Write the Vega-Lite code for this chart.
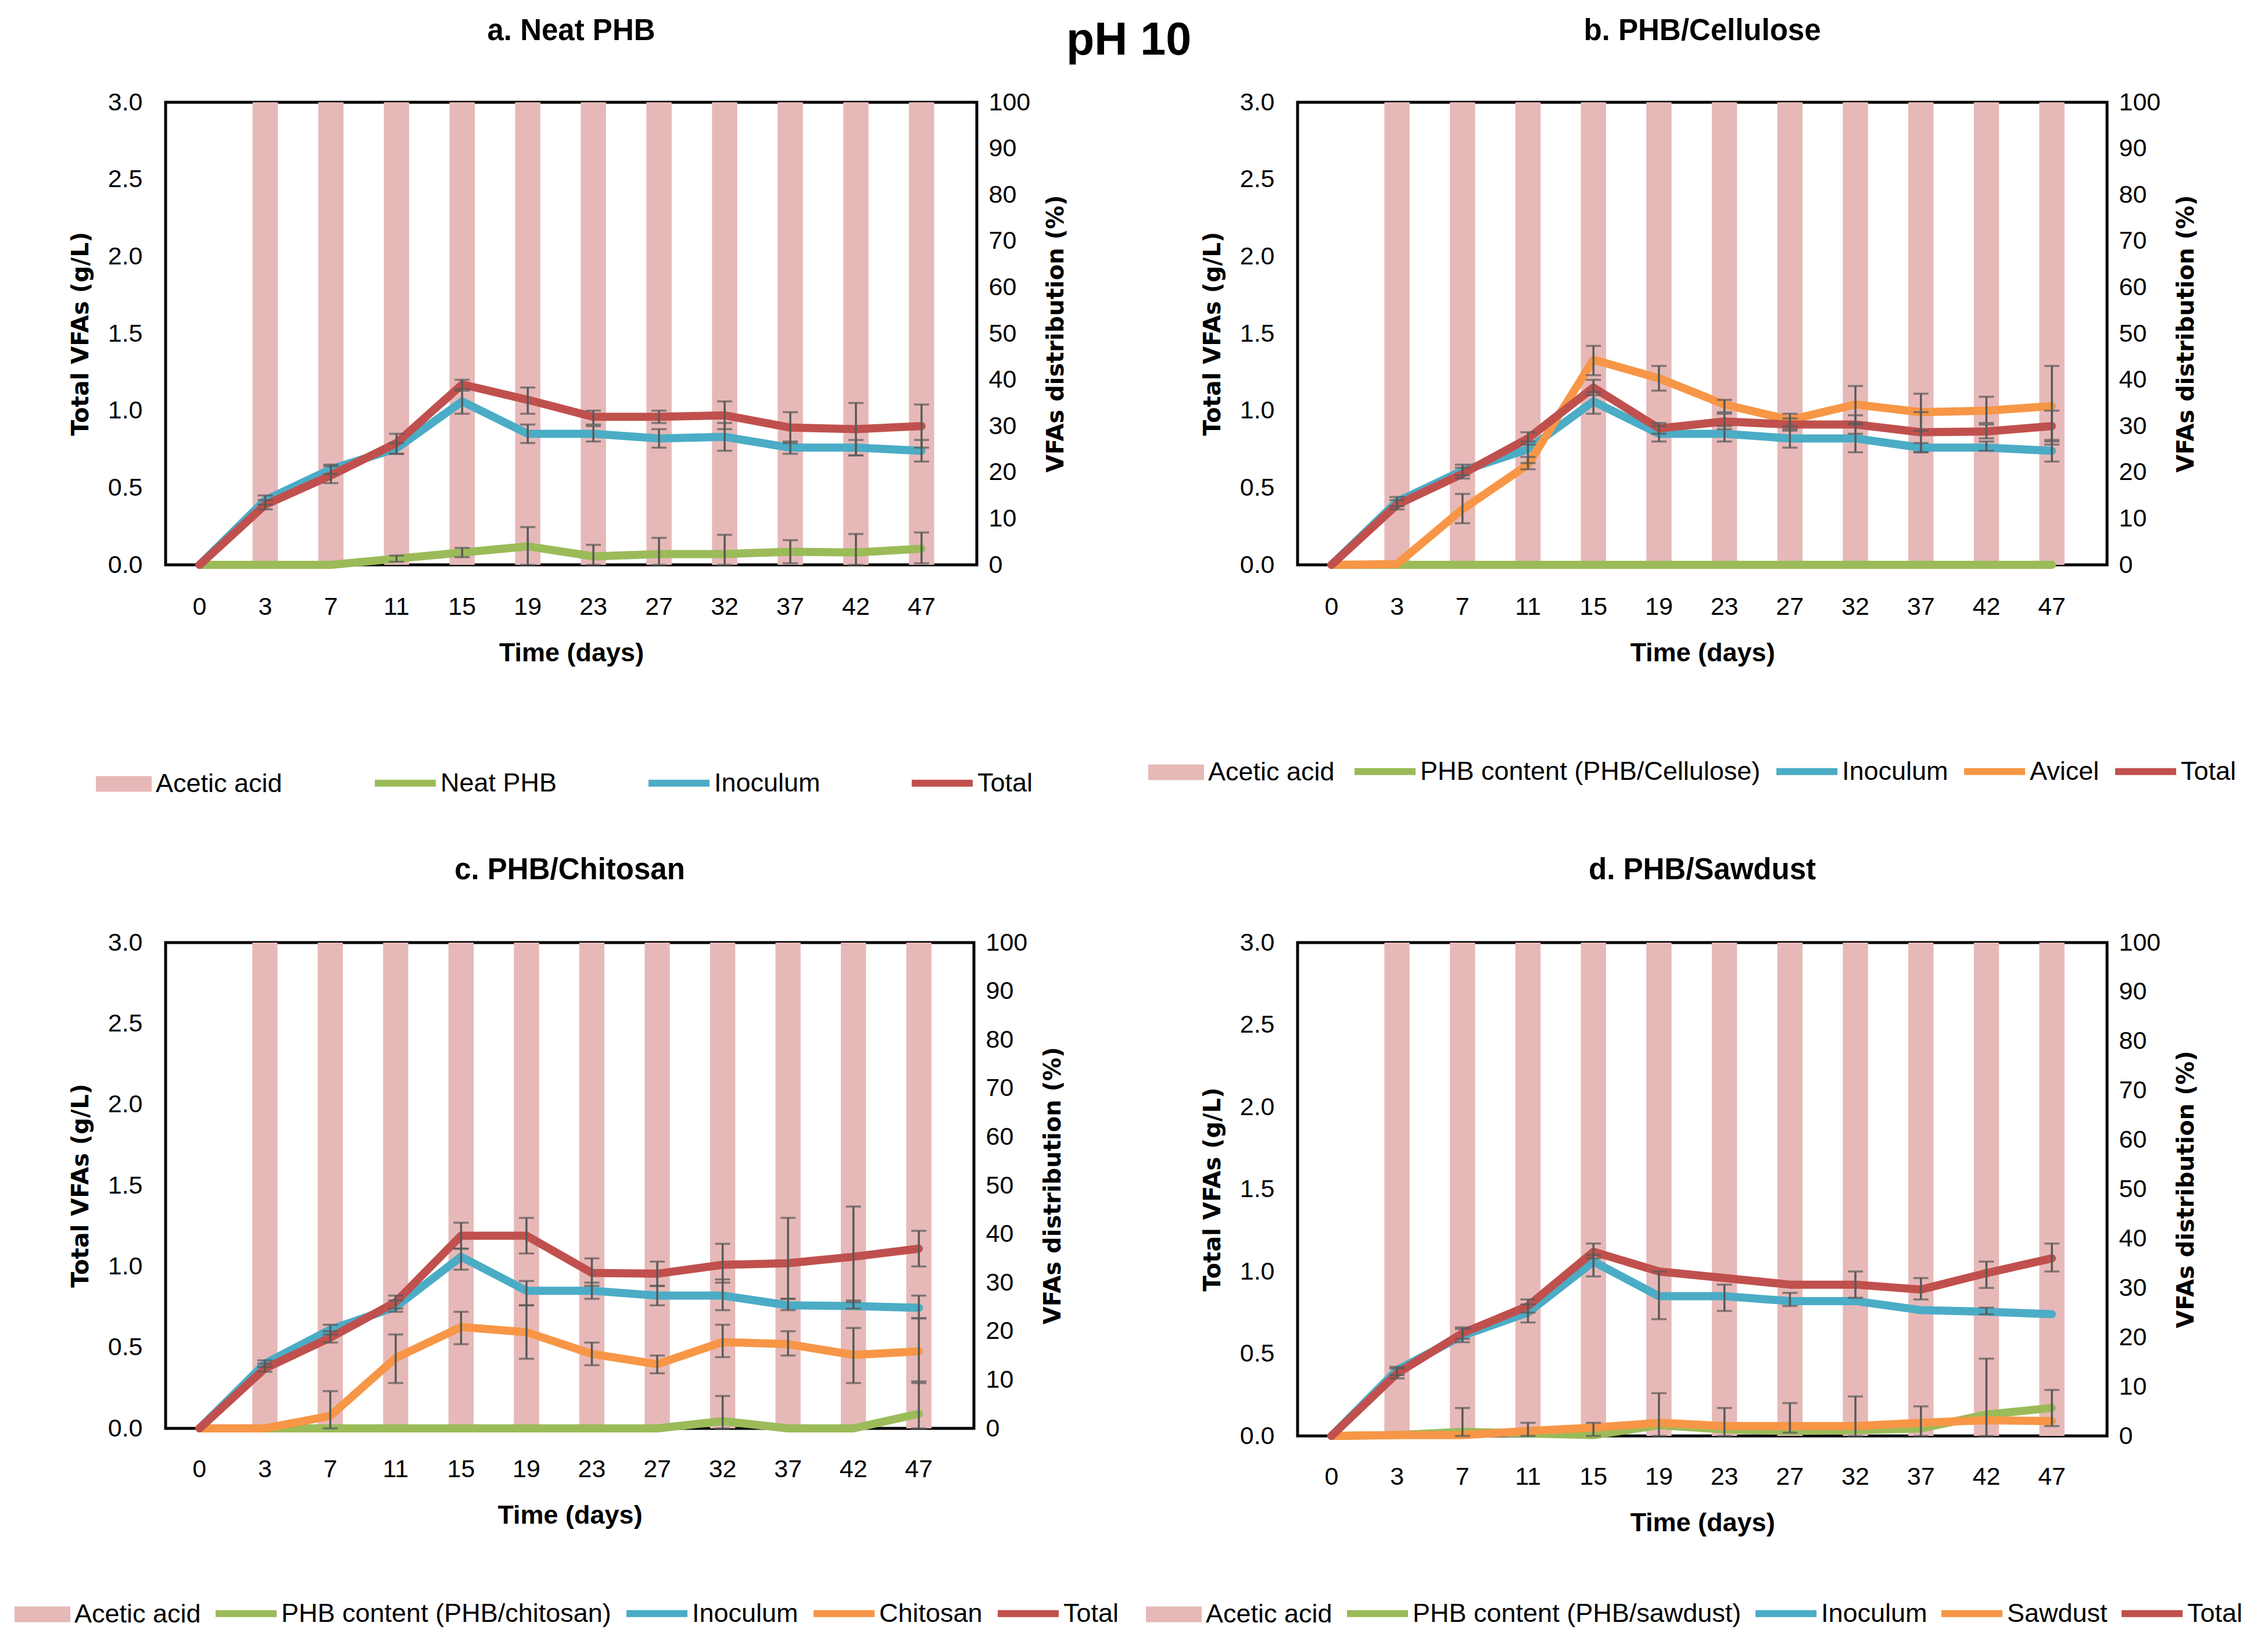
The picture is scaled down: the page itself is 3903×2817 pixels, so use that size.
{
"$schema": "https://vega.github.io/schema/vega-lite/v6.json",
"background": "white",
"padding": {"left": 22, "top": 25, "right": 5, "bottom": 5},
"title": {"text": "pH 10", "fontSize": 79, "offset": -85, "anchor": "middle"},
"config": {
  "view": {"stroke": "black", "strokeWidth": 5},
  "title": {"font": "Liberation Sans", "fontWeight": "bold", "color": "black", "fontSize": 51, "anchor": "middle", "offset": 75},
  "axis": {"grid": false, "domain": false, "ticks": false, "labelFont": "Liberation Sans", "labelFontSize": 43, "labelColor": "black", "titleColor": "black"},
  "legend": {"labelFont": "Liberation Sans", "labelFontSize": 45, "labelColor": "black", "labelLimit": 1200, "padding": 0, "title": null}
},
"datasets": {
"a": [
{"s":"Acetic acid","d":3,"v":100},{"s":"Acetic acid","d":7,"v":100},{"s":"Acetic acid","d":11,"v":100},{"s":"Acetic acid","d":15,"v":100},{"s":"Acetic acid","d":19,"v":100},{"s":"Acetic acid","d":23,"v":100},{"s":"Acetic acid","d":27,"v":100},{"s":"Acetic acid","d":32,"v":100},{"s":"Acetic acid","d":37,"v":100},{"s":"Acetic acid","d":42,"v":100},{"s":"Acetic acid","d":47,"v":100},
{"s":"Neat PHB","d":0,"v":0},{"s":"Neat PHB","d":3,"v":0},{"s":"Neat PHB","d":7,"v":0},
{"s":"Neat PHB","d":11,"v":0.04,"lo":0.02,"hi":0.06},{"s":"Neat PHB","d":15,"v":0.08,"lo":0.05,"hi":0.11},
{"s":"Neat PHB","d":19,"v":0.12,"lo":0,"hi":0.245},{"s":"Neat PHB","d":23,"v":0.055,"lo":0,"hi":0.13},
{"s":"Neat PHB","d":27,"v":0.07,"lo":0,"hi":0.175},{"s":"Neat PHB","d":32,"v":0.07,"lo":0,"hi":0.195},
{"s":"Neat PHB","d":37,"v":0.085,"lo":0.01,"hi":0.16},{"s":"Neat PHB","d":42,"v":0.08,"lo":0,"hi":0.2},
{"s":"Neat PHB","d":47,"v":0.105,"lo":0.01,"hi":0.21},
{"s":"Inoculum","d":0,"v":0},{"s":"Inoculum","d":3,"v":0.42,"lo":0.39,"hi":0.45},{"s":"Inoculum","d":7,"v":0.62,"lo":0.59,"hi":0.65},
{"s":"Inoculum","d":11,"v":0.755,"lo":0.72,"hi":0.79},{"s":"Inoculum","d":15,"v":1.06,"lo":0.98,"hi":1.13},
{"s":"Inoculum","d":19,"v":0.85,"lo":0.79,"hi":0.91},{"s":"Inoculum","d":23,"v":0.85,"lo":0.8,"hi":0.9},
{"s":"Inoculum","d":27,"v":0.82,"lo":0.76,"hi":0.88},{"s":"Inoculum","d":32,"v":0.83,"lo":0.74,"hi":0.92},
{"s":"Inoculum","d":37,"v":0.76,"lo":0.72,"hi":0.8},{"s":"Inoculum","d":42,"v":0.76,"lo":0.71,"hi":0.81},
{"s":"Inoculum","d":47,"v":0.74,"lo":0.67,"hi":0.81},
{"s":"Total","d":0,"v":0},{"s":"Total","d":3,"v":0.39,"lo":0.36,"hi":0.42},{"s":"Total","d":7,"v":0.58,"lo":0.53,"hi":0.64},
{"s":"Total","d":11,"v":0.79,"lo":0.72,"hi":0.85},{"s":"Total","d":15,"v":1.17,"lo":1.14,"hi":1.2},
{"s":"Total","d":19,"v":1.07,"lo":0.98,"hi":1.15},{"s":"Total","d":23,"v":0.96,"lo":0.91,"hi":1.0},
{"s":"Total","d":27,"v":0.96,"lo":0.92,"hi":1.0},{"s":"Total","d":32,"v":0.97,"lo":0.88,"hi":1.06},
{"s":"Total","d":37,"v":0.89,"lo":0.79,"hi":0.99},{"s":"Total","d":42,"v":0.88,"lo":0.71,"hi":1.05},
{"s":"Total","d":47,"v":0.9,"lo":0.76,"hi":1.04}
],
"b": [
{"s":"Acetic acid","d":3,"v":100},{"s":"Acetic acid","d":7,"v":100},{"s":"Acetic acid","d":11,"v":100},{"s":"Acetic acid","d":15,"v":100},{"s":"Acetic acid","d":19,"v":100},{"s":"Acetic acid","d":23,"v":100},{"s":"Acetic acid","d":27,"v":100},{"s":"Acetic acid","d":32,"v":100},{"s":"Acetic acid","d":37,"v":100},{"s":"Acetic acid","d":42,"v":100},{"s":"Acetic acid","d":47,"v":100},
{"s":"PHB content (PHB/Cellulose)","d":0,"v":0},{"s":"PHB content (PHB/Cellulose)","d":3,"v":0},{"s":"PHB content (PHB/Cellulose)","d":7,"v":0},{"s":"PHB content (PHB/Cellulose)","d":11,"v":0},{"s":"PHB content (PHB/Cellulose)","d":15,"v":0},{"s":"PHB content (PHB/Cellulose)","d":19,"v":0},{"s":"PHB content (PHB/Cellulose)","d":23,"v":0},{"s":"PHB content (PHB/Cellulose)","d":27,"v":0},{"s":"PHB content (PHB/Cellulose)","d":32,"v":0},{"s":"PHB content (PHB/Cellulose)","d":37,"v":0},{"s":"PHB content (PHB/Cellulose)","d":42,"v":0},{"s":"PHB content (PHB/Cellulose)","d":47,"v":0},
{"s":"Inoculum","d":0,"v":0},{"s":"Inoculum","d":3,"v":0.41,"lo":0.38,"hi":0.44},{"s":"Inoculum","d":7,"v":0.61,"lo":0.58,"hi":0.65},
{"s":"Inoculum","d":11,"v":0.75,"lo":0.66,"hi":0.8},{"s":"Inoculum","d":15,"v":1.06,"lo":0.98,"hi":1.12},
{"s":"Inoculum","d":19,"v":0.85,"lo":0.8,"hi":0.9},{"s":"Inoculum","d":23,"v":0.85,"lo":0.8,"hi":0.9},
{"s":"Inoculum","d":27,"v":0.82,"lo":0.76,"hi":0.88},{"s":"Inoculum","d":32,"v":0.82,"lo":0.73,"hi":0.91},
{"s":"Inoculum","d":37,"v":0.76,"lo":0.73,"hi":0.79},{"s":"Inoculum","d":42,"v":0.76,"lo":0.74,"hi":0.8},
{"s":"Inoculum","d":47,"v":0.74,"lo":0.67,"hi":0.81},
{"s":"Avicel","d":0,"v":0},{"s":"Avicel","d":3,"v":0.005},{"s":"Avicel","d":7,"v":0.36,"lo":0.27,"hi":0.46},
{"s":"Avicel","d":11,"v":0.65,"lo":0.62,"hi":0.7},{"s":"Avicel","d":15,"v":1.33,"lo":1.23,"hi":1.42},
{"s":"Avicel","d":19,"v":1.21,"lo":1.13,"hi":1.29},{"s":"Avicel","d":23,"v":1.04,"lo":0.99,"hi":1.07},
{"s":"Avicel","d":27,"v":0.94,"lo":0.9,"hi":0.98},{"s":"Avicel","d":32,"v":1.04,"lo":0.92,"hi":1.16},
{"s":"Avicel","d":37,"v":0.99,"lo":0.87,"hi":1.11},{"s":"Avicel","d":42,"v":1.0,"lo":0.92,"hi":1.09},
{"s":"Avicel","d":47,"v":1.03,"lo":0.78,"hi":1.29},
{"s":"Total","d":0,"v":0},{"s":"Total","d":3,"v":0.39,"lo":0.36,"hi":0.42},{"s":"Total","d":7,"v":0.59,"lo":0.56,"hi":0.63},
{"s":"Total","d":11,"v":0.82,"lo":0.78,"hi":0.86},{"s":"Total","d":15,"v":1.15,"lo":1.1,"hi":1.2},
{"s":"Total","d":19,"v":0.885,"lo":0.85,"hi":0.92},{"s":"Total","d":23,"v":0.93,"lo":0.88,"hi":0.98},
{"s":"Total","d":27,"v":0.91,"lo":0.87,"hi":0.95},{"s":"Total","d":32,"v":0.91,"lo":0.85,"hi":0.97},
{"s":"Total","d":37,"v":0.86,"lo":0.73,"hi":0.99},{"s":"Total","d":42,"v":0.865,"lo":0.82,"hi":0.91},
{"s":"Total","d":47,"v":0.9,"lo":0.8,"hi":1.0}
],
"c": [
{"s":"Acetic acid","d":3,"v":100},{"s":"Acetic acid","d":7,"v":100},{"s":"Acetic acid","d":11,"v":100},{"s":"Acetic acid","d":15,"v":100},{"s":"Acetic acid","d":19,"v":100},{"s":"Acetic acid","d":23,"v":100},{"s":"Acetic acid","d":27,"v":100},{"s":"Acetic acid","d":32,"v":100},{"s":"Acetic acid","d":37,"v":100},{"s":"Acetic acid","d":42,"v":100},{"s":"Acetic acid","d":47,"v":100},
{"s":"PHB content (PHB/chitosan)","d":0,"v":0},{"s":"PHB content (PHB/chitosan)","d":3,"v":0},{"s":"PHB content (PHB/chitosan)","d":7,"v":0},{"s":"PHB content (PHB/chitosan)","d":11,"v":0},{"s":"PHB content (PHB/chitosan)","d":15,"v":0},{"s":"PHB content (PHB/chitosan)","d":19,"v":0},{"s":"PHB content (PHB/chitosan)","d":23,"v":0},{"s":"PHB content (PHB/chitosan)","d":27,"v":0},
{"s":"PHB content (PHB/chitosan)","d":32,"v":0.045,"lo":0,"hi":0.2},{"s":"PHB content (PHB/chitosan)","d":37,"v":0},{"s":"PHB content (PHB/chitosan)","d":42,"v":0},{"s":"PHB content (PHB/chitosan)","d":47,"v":0.09,"lo":0,"hi":0.29},
{"s":"Inoculum","d":0,"v":0},{"s":"Inoculum","d":3,"v":0.4,"lo":0.38,"hi":0.42},{"s":"Inoculum","d":7,"v":0.61,"lo":0.58,"hi":0.64},
{"s":"Inoculum","d":11,"v":0.75,"lo":0.72,"hi":0.79},{"s":"Inoculum","d":15,"v":1.06,"lo":0.98,"hi":1.11},
{"s":"Inoculum","d":19,"v":0.85,"lo":0.76,"hi":0.91},{"s":"Inoculum","d":23,"v":0.85,"lo":0.8,"hi":0.9},
{"s":"Inoculum","d":27,"v":0.82,"lo":0.76,"hi":0.88},{"s":"Inoculum","d":32,"v":0.82,"lo":0.73,"hi":0.92},
{"s":"Inoculum","d":37,"v":0.76,"lo":0.73,"hi":0.8},{"s":"Inoculum","d":42,"v":0.755,"lo":0.74,"hi":0.79},
{"s":"Inoculum","d":47,"v":0.745,"lo":0.68,"hi":0.82},
{"s":"Chitosan","d":0,"v":0},{"s":"Chitosan","d":3,"v":0},{"s":"Chitosan","d":7,"v":0.077,"lo":0,"hi":0.23},
{"s":"Chitosan","d":11,"v":0.435,"lo":0.28,"hi":0.58},{"s":"Chitosan","d":15,"v":0.626,"lo":0.52,"hi":0.72},
{"s":"Chitosan","d":19,"v":0.594,"lo":0.43,"hi":0.76},{"s":"Chitosan","d":23,"v":0.46,"lo":0.39,"hi":0.53},
{"s":"Chitosan","d":27,"v":0.396,"lo":0.34,"hi":0.45},{"s":"Chitosan","d":32,"v":0.533,"lo":0.44,"hi":0.64},
{"s":"Chitosan","d":37,"v":0.52,"lo":0.45,"hi":0.6},{"s":"Chitosan","d":42,"v":0.454,"lo":0.28,"hi":0.62},
{"s":"Chitosan","d":47,"v":0.475,"lo":0.28,"hi":0.68},
{"s":"Total","d":0,"v":0},{"s":"Total","d":3,"v":0.37,"lo":0.35,"hi":0.4},{"s":"Total","d":7,"v":0.56,"lo":0.53,"hi":0.6},
{"s":"Total","d":11,"v":0.78,"lo":0.74,"hi":0.82},{"s":"Total","d":15,"v":1.19,"lo":1.11,"hi":1.27},
{"s":"Total","d":19,"v":1.19,"lo":1.08,"hi":1.3},{"s":"Total","d":23,"v":0.96,"lo":0.88,"hi":1.05},
{"s":"Total","d":27,"v":0.955,"lo":0.88,"hi":1.03},{"s":"Total","d":32,"v":1.01,"lo":0.9,"hi":1.14},
{"s":"Total","d":37,"v":1.02,"lo":0.8,"hi":1.3},{"s":"Total","d":42,"v":1.06,"lo":0.78,"hi":1.37},
{"s":"Total","d":47,"v":1.11,"lo":1.0,"hi":1.22}
],
"d": [
{"s":"Acetic acid","d":3,"v":100},{"s":"Acetic acid","d":7,"v":100},{"s":"Acetic acid","d":11,"v":100},{"s":"Acetic acid","d":15,"v":100},{"s":"Acetic acid","d":19,"v":100},{"s":"Acetic acid","d":23,"v":100},{"s":"Acetic acid","d":27,"v":100},{"s":"Acetic acid","d":32,"v":100},{"s":"Acetic acid","d":37,"v":100},{"s":"Acetic acid","d":42,"v":100},{"s":"Acetic acid","d":47,"v":100},
{"s":"PHB content (PHB/sawdust)","d":0,"v":0},{"s":"PHB content (PHB/sawdust)","d":3,"v":0.005},{"s":"PHB content (PHB/sawdust)","d":7,"v":0.025,"lo":0,"hi":0.17},
{"s":"PHB content (PHB/sawdust)","d":11,"v":0.015,"lo":0,"hi":0.08},{"s":"PHB content (PHB/sawdust)","d":15,"v":0.005,"lo":0,"hi":0.08},
{"s":"PHB content (PHB/sawdust)","d":19,"v":0.065,"lo":0,"hi":0.26},{"s":"PHB content (PHB/sawdust)","d":23,"v":0.04,"lo":0,"hi":0.17},
{"s":"PHB content (PHB/sawdust)","d":27,"v":0.03,"lo":0.02,"hi":0.2},{"s":"PHB content (PHB/sawdust)","d":32,"v":0.035,"lo":0,"hi":0.24},
{"s":"PHB content (PHB/sawdust)","d":37,"v":0.045,"lo":0,"hi":0.18},{"s":"PHB content (PHB/sawdust)","d":42,"v":0.13,"lo":0,"hi":0.47},
{"s":"PHB content (PHB/sawdust)","d":47,"v":0.17,"lo":0.06,"hi":0.28},
{"s":"Inoculum","d":0,"v":0},{"s":"Inoculum","d":3,"v":0.4,"lo":0.37,"hi":0.42},{"s":"Inoculum","d":7,"v":0.61,"lo":0.57,"hi":0.65},
{"s":"Inoculum","d":11,"v":0.75,"lo":0.69,"hi":0.8},{"s":"Inoculum","d":15,"v":1.06,"lo":0.97,"hi":1.1},
{"s":"Inoculum","d":19,"v":0.85,"lo":0.71,"hi":1.0},{"s":"Inoculum","d":23,"v":0.85,"lo":0.76,"hi":0.92},
{"s":"Inoculum","d":27,"v":0.82,"lo":0.79,"hi":0.87},{"s":"Inoculum","d":32,"v":0.82},
{"s":"Inoculum","d":37,"v":0.765},{"s":"Inoculum","d":42,"v":0.755,"lo":0.74,"hi":0.78},
{"s":"Inoculum","d":47,"v":0.74},
{"s":"Sawdust","d":0,"v":0},{"s":"Sawdust","d":3,"v":0.005},{"s":"Sawdust","d":7,"v":0.005},{"s":"Sawdust","d":11,"v":0.03},
{"s":"Sawdust","d":15,"v":0.05},{"s":"Sawdust","d":19,"v":0.08},{"s":"Sawdust","d":23,"v":0.06},{"s":"Sawdust","d":27,"v":0.06},
{"s":"Sawdust","d":32,"v":0.06},{"s":"Sawdust","d":37,"v":0.08},{"s":"Sawdust","d":42,"v":0.095},{"s":"Sawdust","d":47,"v":0.09},
{"s":"Total","d":0,"v":0},{"s":"Total","d":3,"v":0.38,"lo":0.35,"hi":0.41},{"s":"Total","d":7,"v":0.625,"lo":0.59,"hi":0.66},
{"s":"Total","d":11,"v":0.79,"lo":0.75,"hi":0.83},{"s":"Total","d":15,"v":1.12,"lo":1.08,"hi":1.17},
{"s":"Total","d":19,"v":1.0},{"s":"Total","d":23,"v":0.96},
{"s":"Total","d":27,"v":0.92},{"s":"Total","d":32,"v":0.92,"lo":0.84,"hi":1.0},
{"s":"Total","d":37,"v":0.89,"lo":0.83,"hi":0.96},{"s":"Total","d":42,"v":0.99,"lo":0.9,"hi":1.06},
{"s":"Total","d":47,"v":1.08,"lo":1.0,"hi":1.17}
]
},
"columns": 2,
"bounds": "flush",
"spacing": {"row": 650, "column": 552},
"align": "each",
"resolve": {"scale": {"x": "independent", "y": "independent", "fill": "independent", "stroke": "independent"}, "legend": {"fill": "independent", "stroke": "independent"}},
"concat": [
{
 "width": 1396, "height": 796,
 "title": {"text": "a. Neat PHB"},
 "data": {"name": "a"},
 "encoding": {"x": {"field": "d", "type": "ordinal", "scale": {"domain": [0,3,7,11,15,19,23,27,32,37,42,47], "paddingInner": 0, "paddingOuter": 0.18, "align": 0.05}, "axis": {"title": "Time (days)", "titleFont": "Liberation Sans", "titleFontWeight": "bold", "titleFontSize": 45, "labelAngle": 0, "labelPadding": 51, "titlePadding": 35}}},
 "layer": [
  {"transform": [{"filter": "datum.s === 'Acetic acid'"}],
   "mark": {"type": "bar", "width": {"band": 0.385}},
   "encoding": {
    "y": {"field": "v", "type": "quantitative", "scale": {"domain": [0, 100]}, "axis": {"orient": "right", "title": "VFAs distribution  (%)", "titleFont": "DejaVu Sans", "titleFontWeight": "bold", "titleFontSize": 40, "titleAngle": 270, "titleBaseline": "top", "values": [0,10,20,30,40,50,60,70,80,90,100], "labelPadding": 20, "titlePadding": 25}},
    "fill": {"field": "s", "type": "nominal", "scale": {"domain": ["Acetic acid"], "range": ["#E6B9B8"]}, "legend": {"orient": "none", "legendX": -120, "legendY": 1125, "symbolType": "M-1,-0.28H1V0.28H-1Z", "symbolSize": 9216, "symbolStrokeWidth": 0, "labelOffset": 7}}
   }},
  {"transform": [{"filter": "datum.s !== 'Acetic acid'"}],
   "layer": [
    {"mark": {"type": "line", "strokeWidth": 14, "strokeCap": "round", "strokeJoin": "round"},
     "encoding": {
      "y": {"field": "v", "type": "quantitative", "scale": {"domain": [0, 3]}, "axis": {"orient": "left", "title": "Total VFAs (g/L)", "titleFont": "DejaVu Sans", "titleFontWeight": "bold", "titleFontSize": 40, "values": [0,0.5,1,1.5,2,2.5,3], "format": ".1f", "labelPadding": 40, "titlePadding": 26}},
      "stroke": {"field": "s", "type": "nominal", "sort": null, "scale": {"domain": ["Neat PHB", "Inoculum", "Total"], "range": ["#9BBB59", "#4BACC6", "#C0504D"]}, "legend": {"orient": "none", "direction": "horizontal", "legendX": 354, "legendY": 1113, "symbolType": "stroke", "symbolSize": 11025, "symbolStrokeWidth": 12, "columnPadding": 133, "labelOffset": 2}}
     }},
    {"transform": [{"filter": "isValid(datum.lo)"}], "mark": {"type": "rule", "color": "#595959", "strokeWidth": 3.5},
     "encoding": {"y": {"field": "lo", "type": "quantitative", "scale": {"domain": [0, 3]}, "axis": {"orient": "left", "title": "Total VFAs (g/L)", "titleFont": "DejaVu Sans", "titleFontWeight": "bold", "titleFontSize": 40, "values": [0,0.5,1,1.5,2,2.5,3], "format": ".1f", "labelPadding": 40, "titlePadding": 26}}, "y2": {"field": "hi"}}},
    {"transform": [{"filter": "isValid(datum.lo)"}], "mark": {"type": "tick", "color": "#595959", "thickness": 3.5, "size": 26},
     "encoding": {"y": {"field": "lo", "type": "quantitative", "scale": {"domain": [0, 3]}, "axis": {"orient": "left", "title": "Total VFAs (g/L)", "titleFont": "DejaVu Sans", "titleFontWeight": "bold", "titleFontSize": 40, "values": [0,0.5,1,1.5,2,2.5,3], "format": ".1f", "labelPadding": 40, "titlePadding": 26}}}},
    {"transform": [{"filter": "isValid(datum.hi)"}], "mark": {"type": "tick", "color": "#595959", "thickness": 3.5, "size": 26},
     "encoding": {"y": {"field": "hi", "type": "quantitative", "scale": {"domain": [0, 3]}, "axis": {"orient": "left", "title": "Total VFAs (g/L)", "titleFont": "DejaVu Sans", "titleFontWeight": "bold", "titleFontSize": 40, "values": [0,0.5,1,1.5,2,2.5,3], "format": ".1f", "labelPadding": 40, "titlePadding": 26}}}}
   ]}
 ],
 "resolve": {"scale": {"y": "independent"}}
},
{
 "width": 1393, "height": 796,
 "title": {"text": "b. PHB/Cellulose"},
 "data": {"name": "b"},
 "encoding": {"x": {"field": "d", "type": "ordinal", "scale": {"domain": [0,3,7,11,15,19,23,27,32,37,42,47], "paddingInner": 0, "paddingOuter": 0.18, "align": 0.05}, "axis": {"title": "Time (days)", "titleFont": "Liberation Sans", "titleFontWeight": "bold", "titleFontSize": 45, "labelAngle": 0, "labelPadding": 51, "titlePadding": 35}}},
 "layer": [
  {"transform": [{"filter": "datum.s === 'Acetic acid'"}],
   "mark": {"type": "bar", "width": {"band": 0.385}},
   "encoding": {
    "y": {"field": "v", "type": "quantitative", "scale": {"domain": [0, 100]}, "axis": {"orient": "right", "title": "VFAs distribution  (%)", "titleFont": "DejaVu Sans", "titleFontWeight": "bold", "titleFontSize": 40, "titleAngle": 270, "titleBaseline": "top", "values": [0,10,20,30,40,50,60,70,80,90,100], "labelPadding": 20, "titlePadding": 25}},
    "fill": {"field": "s", "type": "nominal", "scale": {"domain": ["Acetic acid"], "range": ["#E6B9B8"]}, "legend": {"orient": "none", "legendX": -257, "legendY": 1105, "symbolType": "M-1,-0.28H1V0.28H-1Z", "symbolSize": 9216, "symbolStrokeWidth": 0, "labelOffset": 7}}
   }},
  {"transform": [{"filter": "datum.s !== 'Acetic acid'"}],
   "layer": [
    {"mark": {"type": "line", "strokeWidth": 14, "strokeCap": "round", "strokeJoin": "round"},
     "encoding": {
      "y": {"field": "v", "type": "quantitative", "scale": {"domain": [0, 3]}, "axis": {"orient": "left", "title": "Total VFAs (g/L)", "titleFont": "DejaVu Sans", "titleFontWeight": "bold", "titleFontSize": 40, "values": [0,0.5,1,1.5,2,2.5,3], "format": ".1f", "labelPadding": 40, "titlePadding": 26}},
      "stroke": {"field": "s", "type": "nominal", "sort": null, "scale": {"domain": ["PHB content (PHB/Cellulose)", "Inoculum", "Avicel", "Total"], "range": ["#9BBB59", "#4BACC6", "#F79646", "#C0504D"]}, "legend": {"orient": "none", "direction": "horizontal", "legendX": 92, "legendY": 1093, "symbolType": "stroke", "symbolSize": 11025, "symbolStrokeWidth": 12, "columnPadding": 3, "labelOffset": 2}}
     }},
    {"transform": [{"filter": "isValid(datum.lo)"}], "mark": {"type": "rule", "color": "#595959", "strokeWidth": 3.5},
     "encoding": {"y": {"field": "lo", "type": "quantitative", "scale": {"domain": [0, 3]}, "axis": {"orient": "left", "title": "Total VFAs (g/L)", "titleFont": "DejaVu Sans", "titleFontWeight": "bold", "titleFontSize": 40, "values": [0,0.5,1,1.5,2,2.5,3], "format": ".1f", "labelPadding": 40, "titlePadding": 26}}, "y2": {"field": "hi"}}},
    {"transform": [{"filter": "isValid(datum.lo)"}], "mark": {"type": "tick", "color": "#595959", "thickness": 3.5, "size": 26},
     "encoding": {"y": {"field": "lo", "type": "quantitative", "scale": {"domain": [0, 3]}, "axis": {"orient": "left", "title": "Total VFAs (g/L)", "titleFont": "DejaVu Sans", "titleFontWeight": "bold", "titleFontSize": 40, "values": [0,0.5,1,1.5,2,2.5,3], "format": ".1f", "labelPadding": 40, "titlePadding": 26}}}},
    {"transform": [{"filter": "isValid(datum.hi)"}], "mark": {"type": "tick", "color": "#595959", "thickness": 3.5, "size": 26},
     "encoding": {"y": {"field": "hi", "type": "quantitative", "scale": {"domain": [0, 3]}, "axis": {"orient": "left", "title": "Total VFAs (g/L)", "titleFont": "DejaVu Sans", "titleFontWeight": "bold", "titleFontSize": 40, "values": [0,0.5,1,1.5,2,2.5,3], "format": ".1f", "labelPadding": 40, "titlePadding": 26}}}}
   ]}
 ],
 "resolve": {"scale": {"y": "independent"}}
},
{
 "width": 1391, "height": 836,
 "title": {"text": "c. PHB/Chitosan", "offset": 77},
 "data": {"name": "c"},
 "encoding": {"x": {"field": "d", "type": "ordinal", "scale": {"domain": [0,3,7,11,15,19,23,27,32,37,42,47], "paddingInner": 0, "paddingOuter": 0.18, "align": 0.05}, "axis": {"title": "Time (days)", "titleFont": "Liberation Sans", "titleFontWeight": "bold", "titleFontSize": 45, "labelAngle": 0, "labelPadding": 49, "titlePadding": 35}}},
 "layer": [
  {"transform": [{"filter": "datum.s === 'Acetic acid'"}],
   "mark": {"type": "bar", "width": {"band": 0.385}},
   "encoding": {
    "y": {"field": "v", "type": "quantitative", "scale": {"domain": [0, 100]}, "axis": {"orient": "right", "title": "VFAs distribution  (%)", "titleFont": "DejaVu Sans", "titleFontWeight": "bold", "titleFontSize": 40, "titleAngle": 270, "titleBaseline": "top", "values": [0,10,20,30,40,50,60,70,80,90,100], "labelPadding": 20, "titlePadding": 25}},
    "fill": {"field": "s", "type": "nominal", "scale": {"domain": ["Acetic acid"], "range": ["#E6B9B8"]}, "legend": {"orient": "none", "legendX": -260, "legendY": 1108, "symbolType": "M-1,-0.28H1V0.28H-1Z", "symbolSize": 9216, "symbolStrokeWidth": 0, "labelOffset": 7}}
   }},
  {"transform": [{"filter": "datum.s !== 'Acetic acid'"}],
   "layer": [
    {"mark": {"type": "line", "strokeWidth": 14, "strokeCap": "round", "strokeJoin": "round"},
     "encoding": {
      "y": {"field": "v", "type": "quantitative", "scale": {"domain": [0, 3]}, "axis": {"orient": "left", "title": "Total VFAs (g/L)", "titleFont": "DejaVu Sans", "titleFontWeight": "bold", "titleFontSize": 40, "values": [0,0.5,1,1.5,2,2.5,3], "format": ".1f", "labelPadding": 40, "titlePadding": 26}},
      "stroke": {"field": "s", "type": "nominal", "sort": null, "scale": {"domain": ["PHB content (PHB/chitosan)", "Inoculum", "Chitosan", "Total"], "range": ["#9BBB59", "#4BACC6", "#F79646", "#C0504D"]}, "legend": {"orient": "none", "direction": "horizontal", "legendX": 80, "legendY": 1096, "symbolType": "stroke", "symbolSize": 11025, "symbolStrokeWidth": 12, "columnPadding": 2, "labelOffset": 2}}
     }},
    {"transform": [{"filter": "isValid(datum.lo)"}], "mark": {"type": "rule", "color": "#595959", "strokeWidth": 3.5},
     "encoding": {"y": {"field": "lo", "type": "quantitative", "scale": {"domain": [0, 3]}, "axis": {"orient": "left", "title": "Total VFAs (g/L)", "titleFont": "DejaVu Sans", "titleFontWeight": "bold", "titleFontSize": 40, "values": [0,0.5,1,1.5,2,2.5,3], "format": ".1f", "labelPadding": 40, "titlePadding": 26}}, "y2": {"field": "hi"}}},
    {"transform": [{"filter": "isValid(datum.lo)"}], "mark": {"type": "tick", "color": "#595959", "thickness": 3.5, "size": 26},
     "encoding": {"y": {"field": "lo", "type": "quantitative", "scale": {"domain": [0, 3]}, "axis": {"orient": "left", "title": "Total VFAs (g/L)", "titleFont": "DejaVu Sans", "titleFontWeight": "bold", "titleFontSize": 40, "values": [0,0.5,1,1.5,2,2.5,3], "format": ".1f", "labelPadding": 40, "titlePadding": 26}}}},
    {"transform": [{"filter": "isValid(datum.hi)"}], "mark": {"type": "tick", "color": "#595959", "thickness": 3.5, "size": 26},
     "encoding": {"y": {"field": "hi", "type": "quantitative", "scale": {"domain": [0, 3]}, "axis": {"orient": "left", "title": "Total VFAs (g/L)", "titleFont": "DejaVu Sans", "titleFontWeight": "bold", "titleFontSize": 40, "values": [0,0.5,1,1.5,2,2.5,3], "format": ".1f", "labelPadding": 40, "titlePadding": 26}}}}
   ]}
 ],
 "resolve": {"scale": {"y": "independent"}}
},
{
 "width": 1393, "height": 849,
 "title": {"text": "d. PHB/Sawdust", "offset": 77},
 "data": {"name": "d"},
 "encoding": {"x": {"field": "d", "type": "ordinal", "scale": {"domain": [0,3,7,11,15,19,23,27,32,37,42,47], "paddingInner": 0, "paddingOuter": 0.18, "align": 0.05}, "axis": {"title": "Time (days)", "titleFont": "Liberation Sans", "titleFontWeight": "bold", "titleFontSize": 45, "labelAngle": 0, "labelPadding": 49, "titlePadding": 35}}},
 "layer": [
  {"transform": [{"filter": "datum.s === 'Acetic acid'"}],
   "mark": {"type": "bar", "width": {"band": 0.385}},
   "encoding": {
    "y": {"field": "v", "type": "quantitative", "scale": {"domain": [0, 100]}, "axis": {"orient": "right", "title": "VFAs distribution  (%)", "titleFont": "DejaVu Sans", "titleFontWeight": "bold", "titleFontSize": 40, "titleAngle": 270, "titleBaseline": "top", "values": [0,10,20,30,40,50,60,70,80,90,100], "labelPadding": 20, "titlePadding": 25}},
    "fill": {"field": "s", "type": "nominal", "scale": {"domain": ["Acetic acid"], "range": ["#E6B9B8"]}, "legend": {"orient": "none", "legendX": -261, "legendY": 1108, "symbolType": "M-1,-0.28H1V0.28H-1Z", "symbolSize": 9216, "symbolStrokeWidth": 0, "labelOffset": 7}}
   }},
  {"transform": [{"filter": "datum.s !== 'Acetic acid'"}],
   "layer": [
    {"mark": {"type": "line", "strokeWidth": 14, "strokeCap": "round", "strokeJoin": "round"},
     "encoding": {
      "y": {"field": "v", "type": "quantitative", "scale": {"domain": [0, 3]}, "axis": {"orient": "left", "title": "Total VFAs (g/L)", "titleFont": "DejaVu Sans", "titleFontWeight": "bold", "titleFontSize": 40, "values": [0,0.5,1,1.5,2,2.5,3], "format": ".1f", "labelPadding": 40, "titlePadding": 26}},
      "stroke": {"field": "s", "type": "nominal", "sort": null, "scale": {"domain": ["PHB content (PHB/sawdust)", "Inoculum", "Sawdust", "Total"], "range": ["#9BBB59", "#4BACC6", "#F79646", "#C0504D"]}, "legend": {"orient": "none", "direction": "horizontal", "legendX": 79, "legendY": 1096, "symbolType": "stroke", "symbolSize": 11025, "symbolStrokeWidth": 12, "columnPadding": 0, "labelOffset": 2}}
     }},
    {"transform": [{"filter": "isValid(datum.lo)"}], "mark": {"type": "rule", "color": "#595959", "strokeWidth": 3.5},
     "encoding": {"y": {"field": "lo", "type": "quantitative", "scale": {"domain": [0, 3]}, "axis": {"orient": "left", "title": "Total VFAs (g/L)", "titleFont": "DejaVu Sans", "titleFontWeight": "bold", "titleFontSize": 40, "values": [0,0.5,1,1.5,2,2.5,3], "format": ".1f", "labelPadding": 40, "titlePadding": 26}}, "y2": {"field": "hi"}}},
    {"transform": [{"filter": "isValid(datum.lo)"}], "mark": {"type": "tick", "color": "#595959", "thickness": 3.5, "size": 26},
     "encoding": {"y": {"field": "lo", "type": "quantitative", "scale": {"domain": [0, 3]}, "axis": {"orient": "left", "title": "Total VFAs (g/L)", "titleFont": "DejaVu Sans", "titleFontWeight": "bold", "titleFontSize": 40, "values": [0,0.5,1,1.5,2,2.5,3], "format": ".1f", "labelPadding": 40, "titlePadding": 26}}}},
    {"transform": [{"filter": "isValid(datum.hi)"}], "mark": {"type": "tick", "color": "#595959", "thickness": 3.5, "size": 26},
     "encoding": {"y": {"field": "hi", "type": "quantitative", "scale": {"domain": [0, 3]}, "axis": {"orient": "left", "title": "Total VFAs (g/L)", "titleFont": "DejaVu Sans", "titleFontWeight": "bold", "titleFontSize": 40, "values": [0,0.5,1,1.5,2,2.5,3], "format": ".1f", "labelPadding": 40, "titlePadding": 26}}}}
   ]}
 ],
 "resolve": {"scale": {"y": "independent"}}
}
]
}
